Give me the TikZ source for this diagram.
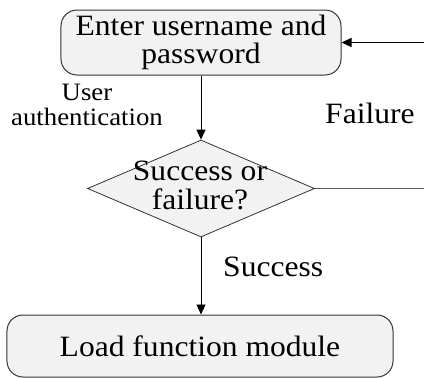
\documentclass[tikz,border=0pt]{standalone}
\usepackage{fontspec}
\setmainfont{Liberation Serif}[FakeStretch=1.07]
\usetikzlibrary{arrows.meta,shapes.geometric}
\definecolor{boxfill}{HTML}{F2F2F2}
\definecolor{edge}{HTML}{333333}
\newcommand{\bigtxt}{\fontsize{29.5bp}{28.5bp}\selectfont}
\newcommand{\smalltxt}{\fontsize{25bp}{24.5bp}\selectfont}
\tikzset{
  box/.style={draw=edge, line width=1bp, fill=boxfill, rounded corners=16bp, align=center, inner sep=0pt,
    font=\bigtxt},
  decision/.style={draw=edge, line width=0.8bp, fill=boxfill, diamond, inner sep=0pt},
  dtext/.style={align=center, inner sep=0pt, font=\bigtxt},
  lbl/.style={inner sep=0pt, font=\bigtxt},
  smalllbl/.style={inner sep=0pt, align=center, font=\smalltxt},
  flow/.style={draw=black, line width=0.9bp, -{Triangle[length=10bp,width=9bp]}},
}
\begin{document}
\begin{tikzpicture}[x=1bp,y=-1bp]
\useasboundingbox (0,0) rectangle (424,378);
\node[box, minimum width=280bp, minimum height=65bp] (login) at (201,42.5) {Enter username and\\password};
\node[decision, minimum width=227bp, minimum height=97bp] (dec) at (201,188.5) {};
\node[dtext] (dectext) at (200,185.5) {Success or\\failure?};
\node[box, minimum width=386bp, minimum height=62bp] (load) at (200,346) {Load function module};
\coordinate (fr) at (445,188.5);
\draw[flow] (login.south) -- (dec.north);
\draw[flow] (dec.south) -- (dec.south |- load.north);
\draw[draw=black!65, line width=1bp] (dec.east) -- (fr);
\draw[flow] (fr) |- (login.east);
\node[lbl, anchor=base west] (fail) at (325,123.3) {Failure};
\node[smalllbl] (auth) at (87,105) {User\\authentication};
\node[lbl, anchor=base west] (succ) at (223,276.7) {Success};
\end{tikzpicture}
\end{document}
